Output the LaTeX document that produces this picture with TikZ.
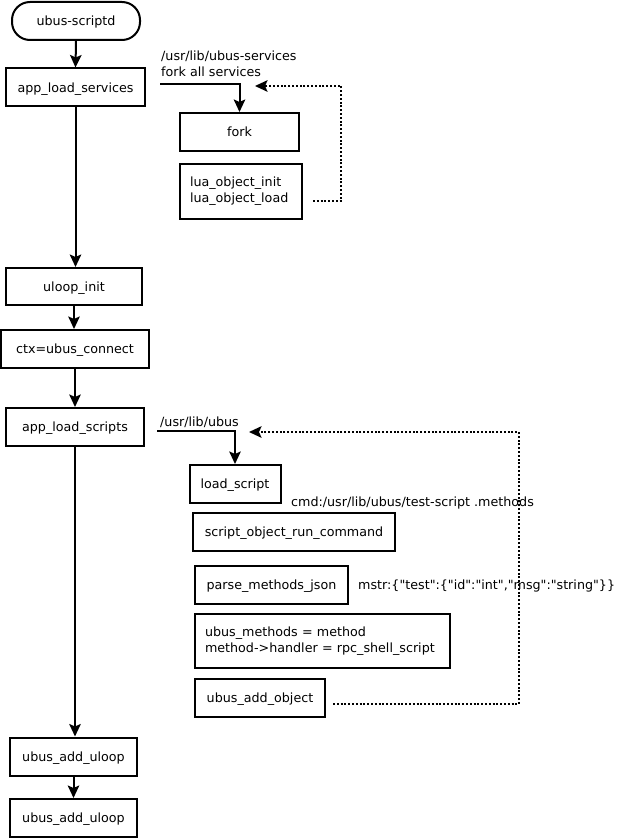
\documentclass[tikz,border=0pt]{standalone}
\usepackage{fontspec}
\setmainfont{DejaVu Sans}
\usetikzlibrary{arrows.meta}
\tikzset{
  box/.style={draw, line width=2pt, minimum height=38pt, inner sep=0pt, font=\fontsize{12.7}{16}\selectfont},
  one/.style={text height=9.6pt, text depth=0pt},
  lbl/.style={inner sep=0pt, font=\fontsize{12.7}{16}\selectfont, align=left},
  flow/.style={line width=2pt, -{Stealth[length=12.5pt,width=11.5pt,inset=2.5pt]}},
  back/.style={line width=2pt, dash pattern=on 2pt off 1.8pt, -{Stealth[length=12.5pt,width=11.5pt,inset=2.5pt]}}
}
\newcommand\qq{\textquotedbl}
\begin{document}
\begin{tikzpicture}[x=1pt,y=-1pt]
\useasboundingbox (0,0) rectangle (619,840);
% main column
\node[box, one, minimum width=128pt, rounded corners=18pt] (start) at (76,21) {ubus-scriptd};
\node[box, one, minimum width=139pt] (als) at (75.5,87.5) {app\_load\_services};
\node[box, one, minimum width=136pt, minimum height=37pt] (uloop) at (74,286.5) {uloop\_init};
\node[box, one, minimum width=148pt] (ctx) at (75,349) {ctx=ubus\_connect};
\node[box, one, minimum width=138pt] (ascr) at (75,427) {app\_load\_scripts};
\node[box, one, minimum width=127pt] (au1) at (73.5,756.5) {ubus\_add\_uloop};
\node[box, one, minimum width=127pt] (au2) at (73.5,818) {ubus\_add\_uloop};
% services branch
\node[box, one, minimum width=119pt] (fork) at (239.5,132) {fork};
\node[box, minimum width=122pt, minimum height=55pt, align=left, text width=102pt] (lua) at (241,191.5) {lua\_object\_init\\lua\_object\_load};
\node[lbl, anchor=north west] (svctxt) at (161,50.5) {/usr/lib/ubus-services\\fork all services};
% scripts branch
\node[box, one, minimum width=91pt] (load) at (235,484) {load\_script};
\node[box, one, minimum width=202pt] (sorc) at (294,532) {script\_object\_run\_command};
\node[box, one, minimum width=153pt] (pmj) at (271.5,585) {parse\_methods\_json};
\node[box, minimum width=255pt, minimum height=54pt, align=left, text width=235pt] (um) at (322.5,641) {ubus\_methods = method\\method->handler = rpc\_shell\_script};
\node[box, one, minimum width=130pt] (uao) at (260,698) {ubus\_add\_object};
\node[lbl, anchor=west] (scrtxt) at (160,422) {/usr/lib/ubus};
\node[lbl, anchor=west] (cmdtxt) at (291,503) {cmd:/usr/lib/ubus/test-script .methods};
\node[lbl, anchor=west] (mstrtxt) at (358,586) {mstr:\{\qq test\qq:\{\qq id\qq:\qq int\qq,\qq msg\qq:\qq string\qq\}\}};
% main flow
\draw[flow] (start.south) -- (als.north);
\draw[flow] (als.south) -- (als.south |- uloop.north);
\draw[flow] (uloop.south) -- (uloop.south |- ctx.north);
\draw[flow] (ctx.south) -- (ascr.north);
\draw[flow] (ascr.south) -- (ascr.south |- au1.north);
\draw[flow] (au1.south) -- (au2.north);
% services connectors
\coordinate (s1) at (160,84);
\draw[flow] (s1) -- (fork.north |- s1) -- (fork.north);
\coordinate (d1) at (313,201);
\coordinate (d2) at (341,201);
\coordinate (d3) at (341,86);
\coordinate (d4) at (255,86);
\draw[back] (d1) -- (d2) -- (d3) -- (d4);
% scripts connectors
\coordinate (s2) at (157,431);
\draw[flow] (s2) -- (load.north |- s2) -- (load.north);
\coordinate (e1) at (333,704);
\coordinate (e2) at (519,704);
\coordinate (e3) at (519,432);
\coordinate (e4) at (249,432);
\draw[back] (e1) -- (e2) -- (e3) -- (e4);
\end{tikzpicture}
\end{document}
